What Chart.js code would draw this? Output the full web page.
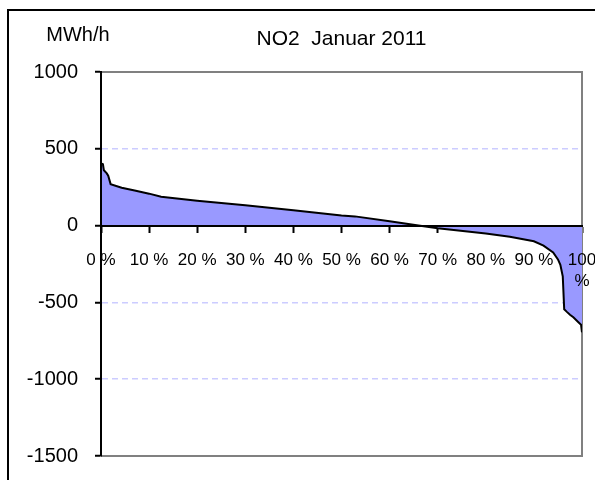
<!DOCTYPE html>
<html>
<head>
<meta charset="utf-8">
<script src="https://cdn.jsdelivr.net/npm/chart.js@4"></script>
<style>
  html, body { margin: 0; padding: 0; background: #fff; overflow: hidden; }
  #wrap { position: relative; width: 595px; height: 480px; }
</style>
</head>
<body>
<div id="wrap"><canvas id="chart" width="595" height="480"></canvas></div>
<script>
const chartTitle = 'NO2  Januar 2011';
const unitLabel = 'MWh/h';

// share of hours in the month (%), sorted duration curve
const hourShare = [
  0, 0.4, 0.6, 1.2, 1.5, 2.0, 4.3, 7, 10, 12.5, 20, 30, 40, 50,
  52.8, 60, 66, 70, 80, 85, 90, 92, 94, 95, 95.5, 96, 96.3, 96.8,
  97.5, 98.2, 99.2, 99.8, 100
];
const exchange = [
  405, 400, 360, 340, 325, 270, 247, 228, 208, 188, 162, 132, 100, 66,
  60, 28, 0, -17, -52, -73, -102, -130, -175, -220, -255, -330, -545, -560,
  -580, -597, -627, -645, -695
];

const yTicks = [1000, 500, 0, -500, -1000, -1500];

const points = hourShare.map((x, i) => ({ x: x, y: exchange[i] }));

const fontName = '"Liberation Sans", Arial, sans-serif';

// outer frame, title, unit and plot frame
const decor = {
  id: 'decor',
  beforeDraw(chart) {
    const ctx = chart.ctx;
    ctx.save();
    ctx.fillStyle = '#fff';
    ctx.fillRect(0, 0, chart.width, chart.height);
    ctx.strokeStyle = '#000';
    ctx.lineWidth = 2;
    ctx.strokeRect(8, 10, 700, 600);
    ctx.fillStyle = '#000';
    ctx.textBaseline = 'middle';
    ctx.textAlign = 'center';
    ctx.font = '21px ' + fontName;
    ctx.fillText(chartTitle, (chart.chartArea.left + chart.chartArea.right) / 2, 39);
    ctx.font = '20px ' + fontName;
    ctx.fillText(unitLabel, 78, 35);
    ctx.restore();
  },
  beforeDatasetsDraw(chart) {
    const { ctx, chartArea: a } = chart;
    ctx.save();
    ctx.strokeStyle = '#808080';
    ctx.lineWidth = 2;
    ctx.beginPath();
    ctx.moveTo(a.left, a.top);
    ctx.lineTo(a.right, a.top);
    ctx.lineTo(a.right, a.bottom);
    ctx.lineTo(a.left, a.bottom);
    ctx.stroke();
    ctx.restore();
  }
};

new Chart(document.getElementById('chart'), {
  type: 'line',
  data: {
    datasets: [{
      data: points,
      borderColor: '#000',
      borderWidth: 2,
      backgroundColor: '#9999ff',
      fill: 'origin',
      pointRadius: 0,
      tension: 0
    }]
  },
  options: {
    responsive: false,
    animation: false,
    layout: { padding: { top: 72, right: 13, bottom: 24, left: 0 } },
    plugins: {
      legend: { display: false },
      title: { display: false },
      tooltip: { enabled: false }
    },
    scales: {
      x: {
        type: 'linear',
        min: 0,
        max: 100,
        position: { y: 0 },
        afterFit: s => { s.paddingLeft = 0; s.paddingRight = 0; },
        grid: {
          drawOnChartArea: false,
          tickLength: 6,
          tickColor: '#000',
          tickWidth: 2
        },
        border: { color: '#000', width: 2, z: 1 },
        ticks: {
          z: 1,
          stepSize: 10,
          padding: 19,
          color: '#000',
          maxRotation: 0,
          autoSkip: false,
          font: { family: fontName, size: 17 },
          callback: v => v === 100 ? ['100', '%'] : v + ' %'
        }
      },
      y: {
        min: -1500,
        max: 1000,
        afterFit: s => { s.width = 101; s.paddingTop = 0; s.paddingBottom = 0; },
        afterBuildTicks: s => { s.ticks = yTicks.map(v => ({ value: v })); },
        grid: {
          color: c => (c.tick && (c.tick.value === 1000 || c.tick.value === 0 || c.tick.value === -1500)) ? 'rgba(0,0,0,0)' : '#ccccff',
          lineWidth: 1.5,
          tickLength: 6,
          tickColor: '#000',
          tickWidth: 2
        },
        border: { color: '#000', width: 2, dash: [6, 4], z: 1 },
        ticks: {
          padding: 17,
          color: '#000',
          font: { family: fontName, size: 20 },
          callback: v => String(v)
        }
      }
    }
  },
  plugins: [decor]
});
</script>
</body>
</html>
